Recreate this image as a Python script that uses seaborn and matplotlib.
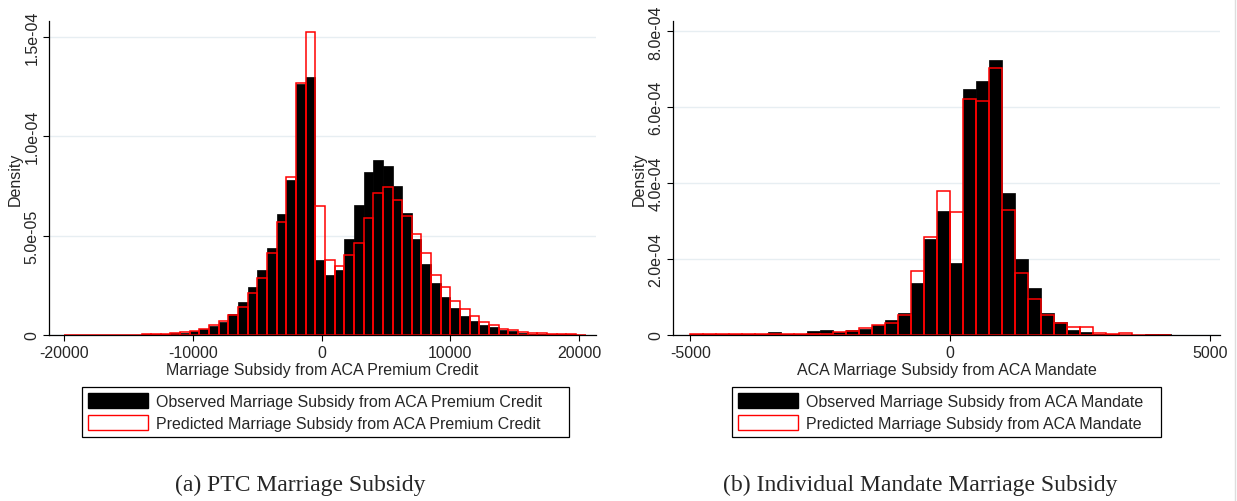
import numpy as np
import pandas as pd
import seaborn as sns
import matplotlib.pyplot as plt
from matplotlib.patches import Patch
from matplotlib.lines import Line2D
from matplotlib.ticker import FuncFormatter

# bins (density values in units of 1e-4)
ptc_edges = list(range(-20000, 20501, 750))
ptc_observed = [0.001, 0.001, 0.001, 0.001, 0.001, 0.001, 0.002, 0.002, 0.003, 0.004,
                0.006, 0.009, 0.012, 0.018, 0.030, 0.047, 0.067, 0.104, 0.164, 0.240,
                0.325, 0.439, 0.607, 0.778, 1.261, 1.300, 0.376, 0.300, 0.325, 0.481,
                0.652, 0.820, 0.879, 0.852, 0.750, 0.615, 0.481, 0.357, 0.260, 0.189,
                0.134, 0.096, 0.070, 0.049, 0.039, 0.023, 0.018, 0.012, 0.006, 0.004,
                0.003, 0.002, 0.001, 0.001]
ptc_predicted = [0.001, 0.001, 0.001, 0.001, 0.001, 0.002, 0.002, 0.002, 0.003, 0.004,
                 0.006, 0.009, 0.013, 0.022, 0.031, 0.048, 0.068, 0.101, 0.143, 0.210,
                 0.288, 0.414, 0.570, 0.795, 1.270, 1.524, 0.649, 0.379, 0.345, 0.401,
                 0.461, 0.587, 0.714, 0.744, 0.677, 0.599, 0.506, 0.414, 0.302, 0.241,
                 0.171, 0.131, 0.096, 0.065, 0.049, 0.032, 0.027, 0.017, 0.012, 0.008,
                 0.007, 0.004, 0.003, 0.002]

mandate_edges = list(range(-5000, 4251, 250))
mandate_observed = [0.005, 0.005, 0.005, 0.005, 0.005, 0.005, 0.08, 0.005, 0.01, 0.097,
                    0.123, 0.08, 0.14, 0.167, 0.255, 0.387, 0.589, 1.37, 2.54, 3.26,
                    1.90, 6.48, 6.69, 7.24, 3.74, 2.00, 1.23, 0.59, 0.35, 0.13,
                    0.08, 0.03, 0.01, 0.01, 0.0, 0.03, 0.03]
mandate_predicted = [0.02, 0.02, 0.02, 0.02, 0.02, 0.02, 0.02, 0.02, 0.02, 0.02,
                     0.03, 0.07, 0.10, 0.185, 0.272, 0.325, 0.536, 1.69, 2.58, 3.79,
                     3.23, 6.21, 6.17, 7.04, 3.30, 1.63, 0.96, 0.52, 0.31, 0.22,
                     0.20, 0.04, 0.02, 0.04, 0.0, 0.0, 0.0]

panels = [
    dict(edges=ptc_edges, obs=ptc_observed, pred=ptc_predicted,
         xlabel="Marriage Subsidy from ACA Premium Credit",
         xticks=[-20000, -10000, 0, 10000, 20000], xlim=(-21190, 21310),
         yticks=[0, 5e-5, 1e-4, 1.5e-4], ylim=(0, 1.58e-4),
         legend=["Observed Marriage Subsidy from ACA Premium Credit",
                 "Predicted Marriage Subsidy from ACA Premium Credit"],
         caption="(a) PTC Marriage Subsidy"),
    dict(edges=mandate_edges, obs=mandate_observed, pred=mandate_predicted,
         xlabel="ACA Marriage Subsidy from ACA Mandate",
         xticks=[-5000, 0, 5000], xlim=(-5333, 5198),
         yticks=[0, 2e-4, 4e-4, 6e-4, 8e-4], ylim=(0, 8.27e-4),
         legend=["Observed Marriage Subsidy from ACA Mandate",
                 "Predicted Marriage Subsidy from ACA Mandate"],
         caption="(b) Individual Mandate Marriage Subsidy"),
]

sns.set_theme(style="white")
plt.rcParams['font.family'] = ['Liberation Sans', 'DejaVu Sans']
plt.rcParams['font.size'] = 11.5
plt.rcParams['axes.unicode_minus'] = False

fig = plt.figure(figsize=(12.37, 5.02), dpi=100)
W, H = 1237, 502
boxes = [(49, 22, 596, 336), (673, 22, 1220, 336)]
legend_boxes = [(82, 388, 569, 438), (732, 388, 1161, 438)]
caption_x = [300, 920]

for p, (x0, y0, x1, y1), (lx0, ly0, lx1, ly1), capx in zip(panels, boxes, legend_boxes, caption_x):
    ax = fig.add_axes([x0 / W, 1 - y1 / H, (x1 - x0) / W, (y1 - y0) / H])
    edges = np.array(p["edges"], dtype=float)
    centers = (edges[:-1] + edges[1:]) / 2
    df = pd.DataFrame({"x": centers,
                       "obs": np.array(p["obs"]) * 1e-4,
                       "pred": np.array(p["pred"]) * 1e-4})

    sns.histplot(data=df, x="x", weights="obs", bins=p["edges"], stat="count",
                 color="black", edgecolor="black", linewidth=0.5, alpha=1, ax=ax)
    sns.histplot(data=df, x="x", weights="pred", bins=p["edges"], stat="count",
                 fill=False, color="#ff0000", linewidth=1.1, ax=ax)

    ax.set_xlim(*p["xlim"])
    ax.set_ylim(*p["ylim"])
    ax.set_xticks(p["xticks"])
    ax.set_yticks(p["yticks"])
    ax.yaxis.set_major_formatter(FuncFormatter(lambda v, pos: "0" if v == 0 else f"{v:.1e}"))
    plt.setp(ax.get_yticklabels(), rotation=90, va="center")
    ax.tick_params(axis="both", direction="out", length=4, width=0.8, color="black",
                   labelsize=11.5, pad=3, left=True, bottom=True)
    ax.grid(axis="y", color="#e7eef2", linewidth=1)
    ax.set_axisbelow(True)
    for s in ["top", "right"]:
        ax.spines[s].set_visible(False)
    for s in ["left", "bottom"]:
        ax.spines[s].set_color("black")
        ax.spines[s].set_linewidth(0.9)
    ax.set_xlabel(p["xlabel"], fontsize=11.5, labelpad=2)
    ax.set_ylabel("Density", fontsize=11.5, labelpad=1)

    handles = [Patch(facecolor="black", edgecolor="black"),
               Patch(facecolor="white", edgecolor="#ff0000", linewidth=1)]
    leg = fig.legend(handles, p["legend"], loc="upper left",
                     bbox_to_anchor=(lx0 / W, 1 - ly1 / H, (lx1 - lx0) / W, (ly1 - ly0) / H),
                     mode="expand", borderaxespad=0,
                     frameon=True, fancybox=False, framealpha=1, edgecolor="black",
                     fontsize=11.5, handlelength=3.75, handleheight=1.0,
                     labelspacing=0.4, handletextpad=0.5, borderpad=0.4)
    leg.get_frame().set_linewidth(0.9)

    fig.text(capx / W, 1 - 485 / H, p["caption"], ha="center", va="center",
             fontsize=17, family=["Liberation Serif", "DejaVu Serif"])

fig.add_artist(Line2D([1235 / W, 1235 / W], [0, 1], color="#dddddd", linewidth=1))

fig.savefig("out.png", dpi=100)
